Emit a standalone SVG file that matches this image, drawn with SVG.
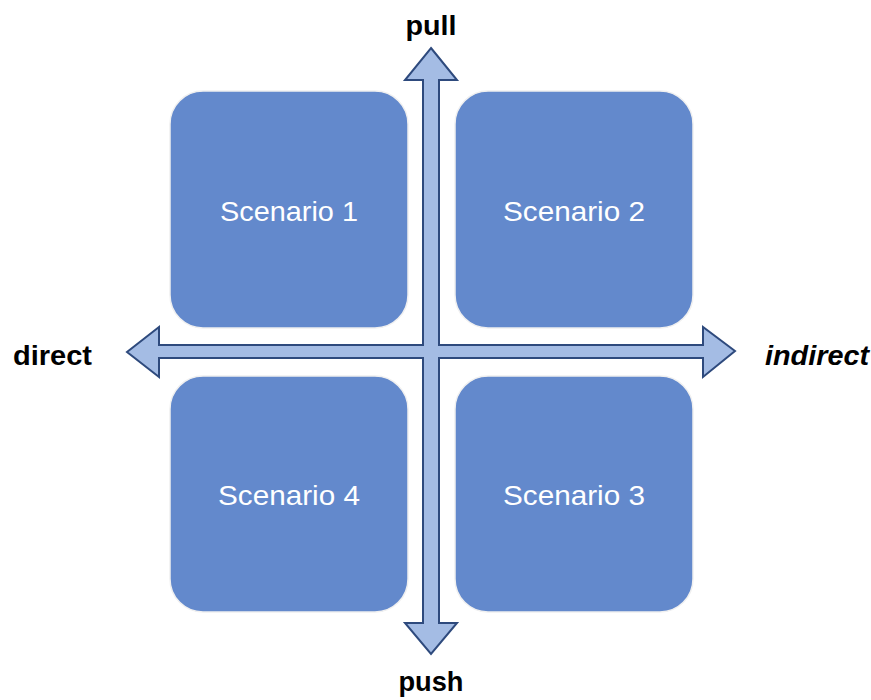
<svg xmlns="http://www.w3.org/2000/svg" width="871" height="700" viewBox="0 0 871 700">
  <style>
    .box { fill: #6389cc; stroke: #f0f0f0; stroke-width: 1.5; }
    .box-label { font-family: "Liberation Sans", Arial, sans-serif; font-size: 28px; fill: #ffffff; text-anchor: middle; }
    .axis { fill: #a4bce4; stroke: #2e4a7d; stroke-width: 2; stroke-linejoin: miter; }
    .axis-label { font-family: "Liberation Sans", Arial, sans-serif; font-size: 28px; font-weight: bold; fill: #000000; }
  </style>

  <!-- quadrant boxes -->
  <g id="scenario-1">
    <rect class="box" x="170" y="91" width="238" height="237" rx="33" ry="33"/>
    <text class="box-label" x="289" y="221" textLength="138" lengthAdjust="spacingAndGlyphs">Scenario 1</text>
  </g>
  <g id="scenario-2">
    <rect class="box" x="455" y="91" width="238" height="237" rx="33" ry="33"/>
    <text class="box-label" x="574" y="221" textLength="142" lengthAdjust="spacingAndGlyphs">Scenario 2</text>
  </g>
  <g id="scenario-4">
    <rect class="box" x="170" y="376" width="238" height="236" rx="33" ry="33"/>
    <text class="box-label" x="289" y="505" textLength="142" lengthAdjust="spacingAndGlyphs">Scenario 4</text>
  </g>
  <g id="scenario-3">
    <rect class="box" x="455" y="376" width="238" height="236" rx="33" ry="33"/>
    <text class="box-label" x="574" y="505" textLength="142" lengthAdjust="spacingAndGlyphs">Scenario 3</text>
  </g>

  <!-- crossed double-headed axes -->
  <g id="connectors">
    <path class="axis" d="M431,48 L457,80 L439,80 L439,345 L703,345 L703,327 L735,351 L703,377 L703,358 L439,358 L439,623 L457,623 L431,654 L405,623 L423,623 L423,358 L159,358 L159,377 L127,352 L159,327 L159,345 L423,345 L423,80 L405,80 Z"/>
  </g>

  <!-- axis end labels -->
  <g id="label-pull">
    <text class="axis-label" x="431" y="35" text-anchor="middle" textLength="51" lengthAdjust="spacingAndGlyphs">pull</text>
  </g>
  <g id="label-push">
    <text class="axis-label" x="431" y="691" text-anchor="middle" textLength="65" lengthAdjust="spacingAndGlyphs">push</text>
  </g>
  <g id="label-direct">
    <text class="axis-label" x="13" y="365" textLength="79" lengthAdjust="spacingAndGlyphs">direct</text>
  </g>
  <g id="label-indirect">
    <text class="axis-label" x="765" y="365" font-style="italic" textLength="104" lengthAdjust="spacingAndGlyphs">indirect</text>
  </g>
</svg>
